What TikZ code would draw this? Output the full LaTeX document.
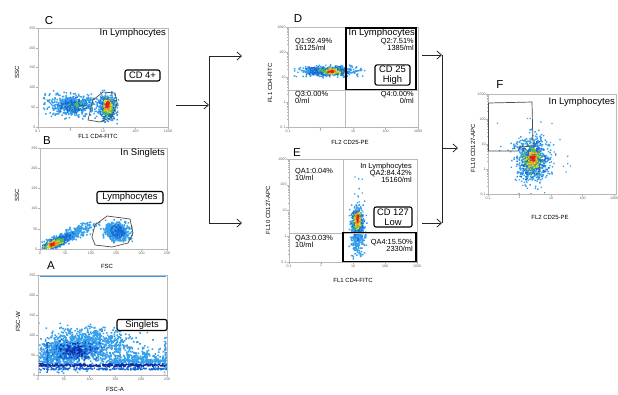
\documentclass[tikz,border=0pt]{standalone}
\usepackage{fontspec}
\setmainfont{Liberation Sans}
\usetikzlibrary{arrows.meta}
\definecolor{lb}{RGB}{55,160,235}
\definecolor{mb}{RGB}{25,105,215}
\definecolor{db}{RGB}{15,45,165}
\definecolor{gr}{RGB}{70,190,90}
\definecolor{ye}{RGB}{235,215,40}
\definecolor{orr}{RGB}{240,140,30}
\definecolor{rd}{RGB}{215,35,35}
\newcommand\fsz[1]{\fontsize{#1}{#1}\selectfont}
% n, cx, cy, sd along, sd across, rotation (ccw on page), colour, dot side
\newcommand\scat[8]{%
 \begin{scope}[shift={(#2,#3)},rotate=#6]
 \fill[#7] foreach \ii in {1,...,#1}{({#4*(rand+rand+rand)},{#5*(rand+rand+rand)}) rectangle +(#8pt,#8pt)};
 \end{scope}}
% n, x0, x1, y, sd y, colour
\newcommand\bandx[6]{%
 \fill[#6] foreach \ii in {1,...,#1}{({#2+(#3-#2)*rnd},{#4+#5*(rand+rand+rand)}) rectangle +(1.4pt,1.4pt)};}
\newcommand\xtk[6]{%
 \foreach \tv [count=\k from 0] in {#5}{%
  \pgfmathsetmacro\tX{#1+(#2-#1)*\k/#4}%
  \draw[gray!60,line width=0.4pt] (\tX,#3)--(\tX,#3+1.8);
  \node[tk,anchor=north] (#6x\k) at (\tX,#3+2) {\tv};
 }}
\newcommand\ytk[6]{%
 \foreach \tv [count=\k from 0] in {#5}{%
  \pgfmathsetmacro\tY{#1+(#2-#1)*\k/#4}%
  \draw[gray!60,line width=0.4pt] (#3,\tY)--(#3-1.8,\tY);
  \node[tk,anchor=east] (#6y\k) at (#3-2,\tY) {\tv};
 }}
\newcommand\xminor[3]{%
 \foreach \dd in {0,1,2,3}{\foreach \kk in {2,...,9}{%
  \pgfmathsetmacro\tX{#1+(#2-#1)/4*(\dd+log10(\kk))}%
  \draw[gray!60,line width=0.3pt] (\tX,#3)--(\tX,#3+1);}}}
\newcommand\yminor[3]{%
 \foreach \dd in {0,1,2,3}{\foreach \kk in {2,...,9}{%
  \pgfmathsetmacro\tY{#1+(#2-#1)/4*(\dd+log10(\kk))}%
  \draw[gray!60,line width=0.3pt] (#3,\tY)--(#3-1,\tY);}}}
\tikzset{
 frame/.style={draw=gray!55,line width=0.9pt,inner sep=0,anchor=north west},
 qline/.style={draw=gray!55,line width=0.8pt},
 hibox/.style={draw=black,line width=1.7pt},
 gate/.style={draw=gray!60!black,line width=0.7pt},
 tag/.style={draw=black,fill=white,line width=1.1pt,rounded corners=2pt,inner sep=1pt,font=\fsz{9.4},align=center},
 plet/.style={font=\fsz{11.5},inner sep=0},
 inl/.style={font=\fsz{9.5},inner sep=0,anchor=east},
 stat/.style={font=\fontsize{7.4}{7}\selectfont,inner sep=0,align=left,anchor=north west},
 statr/.style={font=\fontsize{7.4}{7}\selectfont,inner sep=0,align=right,anchor=north east},
 axl/.style={font=\fsz{6},inner sep=0},
 tk/.style={font=\fsz{3.6},text=gray!80!black,inner sep=0.3pt},
 conn/.style={draw=gray!30!black,line width=0.75pt},
 arr/.style={conn,-{Straight Barb[length=4.5pt,width=8pt]}},
}
\begin{document}
\begin{tikzpicture}[x=1pt,y=-1pt]
\useasboundingbox[fill=white] (0,0) rectangle (618,394);
\pgfmathsetseed{7}
% ================= Panel C =================
\begin{scope}
\clip (38,28) rectangle (168,127);
\scat{480}{72}{106}{14}{5.5}{0}{lb}{1.5}
\scat{160}{74}{106}{8}{3.5}{0}{mb}{1.3}
\scat{25}{76}{106}{4}{2}{0}{gr}{1.3}
\scat{320}{107}{108}{4.3}{6.5}{0}{lb}{1.5}
\scat{180}{107}{108}{3.3}{5.3}{0}{mb}{1.4}
\scat{110}{107}{108}{2.5}{4.2}{0}{gr}{1.4}
\scat{80}{107}{107}{1.8}{3.2}{0}{ye}{1.4}
\scat{55}{107}{106}{1.3}{2.4}{0}{orr}{1.3}
\scat{35}{107}{106}{0.9}{1.6}{0}{rd}{1.3}
\end{scope}
\node[frame,minimum width=130pt,minimum height=99pt] (Cf) at (38,28) {};
\xtk{38}{168}{127}{4}{0.1,1,10,100,1000}{C}
\xminor{38}{168}{127}
\ytk{127}{28}{38}{5}{0,50,100,150,200,250}{C}
\draw[gate] (88,120) -- (93,100) -- (103,92) -- (115,93) -- (117,103) -- (112,117) -- (100,122) -- cycle;
\node[plet] (Clet) at (49,21) {C};
\node[inl] (Cin) at (166,33) {In Lymphocytes};
\node[tag,minimum width=35pt,minimum height=11pt] (Ctag) at (142.5,75.5) {CD 4+};
\node[axl,rotate=90] (Cyl) at (17,72) {SSC};
\node[axl] (Cxl) at (98,136) {FL1 CD4-FITC};
% ================= Panel B =================
\begin{scope}
\clip (40,148) rectangle (167,249);
\scat{480}{116}{232}{6.5}{4.5}{0}{lb}{1.5}
\scat{100}{117}{232}{4}{3}{0}{mb}{1.3}
\scat{400}{68}{237}{13.5}{2.9}{25}{lb}{1.5}
\scat{200}{58}{242}{8}{2.1}{25}{mb}{1.4}
\scat{100}{55}{244}{5}{1.6}{22}{gr}{1.4}
\scat{60}{54}{244.5}{3.5}{1.2}{20}{ye}{1.3}
\scat{40}{53}{245}{2.2}{0.9}{20}{orr}{1.3}
\scat{25}{52}{245.5}{1.4}{0.6}{20}{rd}{1.3}
\end{scope}
\node[frame,minimum width=127pt,minimum height=101pt] (Bf) at (40,148) {};
\xtk{40}{167}{249}{5}{0,50,100,150,200,250}{B}
\ytk{249}{148}{40}{5}{0,50,100,150,200,250}{B}
\draw[gate] (92,237) -- (95,225) -- (107,216) -- (130,219) -- (133,233) -- (128,243) -- (112,247) -- (95,245) -- cycle;
\node[plet] (Blet) at (47,141) {B};
\node[inl] (Bin) at (165,153) {In Singlets};
\node[tag,minimum width=66pt,minimum height=12pt] (Btag) at (130,197.5) {Lymphocytes};
\node[axl,rotate=90] (Byl) at (17,195) {SSC};
\node[axl] (Bxl) at (107,266) {FSC};
% ================= Panel A =================
\begin{scope}
\clip (38,275) rectangle (167,375);
\scat{500}{58}{355}{14}{7}{0}{lb}{1.6}
\scat{520}{95}{348}{21}{9}{0}{lb}{1.6}
\scat{300}{85}{340}{17}{6}{0}{lb}{1.6}
\scat{160}{140}{358}{12}{5}{0}{lb}{1.6}
\bandx{200}{110}{167}{362}{1.5}{lb}
\scat{220}{75}{352}{11}{4.5}{0}{mb}{1.5}
\scat{80}{75}{351}{7}{3}{0}{db}{1.4}
\bandx{320}{38}{167}{366}{0.7}{db}
\bandx{180}{38}{167}{369.5}{0.6}{mb}
\scat{70}{48}{356}{8}{0.4}{90}{mb}{1.2}
\scat{60}{166}{355}{10}{0.6}{90}{lb}{1.3}
\end{scope}
\draw[lb,line width=1pt] (40,276) -- (166,276);
\node[frame,minimum width=129pt,minimum height=100pt] (Af) at (38,275) {};
\xtk{38}{167}{375}{5}{0,50,100,150,200,250}{A}
\ytk{375}{275}{38}{5}{0,50,100,150,200,250}{A}
\node[plet] (Alet) at (51,266) {A};
\node[tag,minimum width=50pt,minimum height=11pt] (Atag) at (142,325) {Singlets};
\node[axl,rotate=90] (Ayl) at (18,322) {FSC-W};
\node[axl] (Axl) at (115,389.5) {FSC-A};
% ================= Panel D =================
\begin{scope}
\clip (288,27) rectangle (418,127);
\scat{450}{328}{72}{14}{2.6}{0}{lb}{1.5}
\scat{220}{328}{72}{9}{2}{0}{mb}{1.4}
\scat{110}{330}{72}{5.5}{1.6}{0}{gr}{1.3}
\scat{70}{331}{72}{3.5}{1.2}{0}{ye}{1.3}
\scat{45}{331}{72}{2.3}{0.9}{0}{orr}{1.3}
\scat{25}{331}{72}{1.3}{0.6}{0}{rd}{1.3}
\end{scope}
\node[frame,minimum width=130pt,minimum height=100pt] (Df) at (288,27) {};
\xtk{288}{418}{127}{4}{0.1,1,10,100,1000}{D}
\xminor{288}{418}{127}
\ytk{127}{27}{288}{4}{0.1,1,10,100,1000}{D}
\yminor{127}{27}{288}
\draw[qline] (345,27) -- (345,127);
\draw[qline] (288,90) -- (418,90);
\draw[hibox] (346,28) rectangle (416,89.5);
\node[plet] (Dlet) at (298,19) {D};
\node[stat] (Dq1) at (295,38.5) {Q1:92.49\%\\16125/ml};
\node[inl] (Din) at (415,33) {In Lymphocytes};
\node[statr] (Dq2) at (414,38.5) {Q2:7.51\%\\1385/ml};
\node[stat] (Dq3) at (295,91.5) {Q3:0.00\%\\0/ml};
\node[statr] (Dq4) at (414,91.5) {Q4:0.00\%\\0/ml};
\node[tag,minimum width=35pt,minimum height=20pt,font=\fontsize{9.4}{9.6}\selectfont] (Dtag) at (392.5,75) {CD 25\\High};
\node[axl,rotate=90] (Dyl) at (270,83) {FL1 CD4-FITC};
\node[axl] (Dxl) at (350,142) {FL2 CD25-PE};
% ================= Panel E =================
\begin{scope}
\clip (289,159) rectangle (417,262);
\scat{380}{357}{228}{3.6}{9.5}{0}{lb}{1.5}
\scat{70}{357}{246}{3.3}{6.5}{0}{lb}{1.5}
\scat{40}{358}{215}{3}{18}{0}{lb}{1.3}
\scat{190}{357}{224}{2.7}{6.8}{0}{mb}{1.4}
\scat{100}{357}{222}{2.1}{5}{0}{gr}{1.3}
\scat{65}{357}{221}{1.6}{3.6}{0}{ye}{1.3}
\scat{40}{357}{220}{1.1}{2.6}{0}{orr}{1.3}
\scat{25}{357}{219}{0.7}{1.7}{0}{rd}{1.3}
\end{scope}
\node[frame,minimum width=128pt,minimum height=103pt] (Ef) at (289,159) {};
\xtk{289}{417}{262}{4}{0.1,1,10,100,1000}{E}
\xminor{289}{417}{262}
\ytk{262}{159}{289}{4}{0.1,1,10,100,1000}{E}
\yminor{262}{159}{289}
\draw[qline] (343,159) -- (343,262);
\draw[qline] (289,233) -- (417,233);
\draw[hibox] (343,232.5) rectangle (416,261.5);
\node[plet] (Elet) at (297,153) {E};
\node[stat] (Eq1) at (295,168.5) {QA1:0.04\%\\10/ml};
\node[statr] (Ein) at (412,162.5) {In Lymphocytes\\QA2:84.42\%\\15160/ml};
\node[stat] (Eq3) at (295,235.5) {QA3:0.03\%\\10/ml};
\node[statr] (Eq4) at (413,239.5) {QA4:15.50\%\\2330/ml};
\node[tag,minimum width=38pt,minimum height=20pt,font=\fontsize{9.4}{9.6}\selectfont] (Etag) at (393,217) {CD 127\\Low};
\node[axl,rotate=90] (Eyl) at (268,210) {FL10 CD127-APC};
\node[axl] (Exl) at (353,280) {FL1 CD4-FITC};
% ================= Panel F =================
\begin{scope}
\clip (488,94) rectangle (616,194);
\scat{70}{532}{162}{17}{19}{0}{lb}{1.3}
\scat{520}{532}{160}{8.5}{11.5}{0}{lb}{1.5}
\scat{260}{532}{160}{6.3}{8.3}{0}{mb}{1.4}
\scat{130}{532}{160}{4.5}{6}{0}{gr}{1.4}
\scat{85}{532}{160}{3.2}{4.2}{0}{ye}{1.3}
\scat{55}{532}{159}{2.2}{2.8}{0}{orr}{1.3}
\scat{30}{532}{159}{1.4}{1.8}{0}{rd}{1.3}
\end{scope}
\node[frame,minimum width=128pt,minimum height=100pt] (Ff) at (488,94) {};
\xtk{488}{614}{194}{4}{0.1,1,10,100,1000}{F}
\xminor{488}{614}{194}
\ytk{194}{94}{488}{4}{0.1,1,10,100,1000}{F}
\yminor{194}{94}{488}
\draw[gate] (488.5,103) -- (532,102) -- (533,146) -- (520,147) -- (518,151) -- (488.5,151) -- cycle;
\node[plet] (Flet) at (500,85) {F};
\node[inl] (Fin) at (615,102) {In Lymphocytes};
\node[axl,rotate=90] (Fyl) at (473,148) {FL10 CD127-APC};
\node[axl] (Fxl) at (550,217) {FL2 CD25-PE};
% ================= Connectors =================
\coordinate (c0) at (176,105);
\coordinate (j1) at (209,105);
\coordinate (j1t) at (209,56);
\coordinate (j1b) at (209,223);
\coordinate (dIn) at (242,56);
\coordinate (eIn) at (242,223);
\coordinate (dOut) at (422,55);
\coordinate (eOut) at (422,223);
\coordinate (j2t) at (442,55);
\coordinate (j2b) at (442,223);
\coordinate (j2) at (442,148);
\coordinate (fIn) at (458,148);
\draw[arr] (c0) -- (j1);
\draw[conn] (j1t) -- (j1b);
\draw[arr] (j1t) -- (dIn);
\draw[arr] (j1b) -- (eIn);
\draw[arr] (dOut) -- (j2t);
\draw[arr] (eOut) -- (j2b);
\draw[conn] (j2t) -- (j2b);
\draw[arr] (j2) -- (fIn);
\end{tikzpicture}
\end{document}
